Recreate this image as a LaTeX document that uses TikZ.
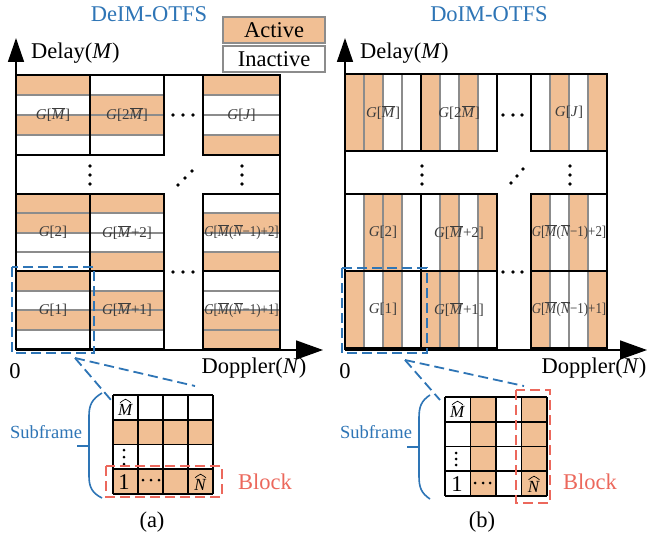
\documentclass[tikz,border=0pt]{standalone}
\usepackage{fontspec}
\setmainfont{Liberation Serif}
\usetikzlibrary{arrows.meta}
\definecolor{act}{RGB}{241,191,148}
\definecolor{bl}{RGB}{46,117,182}
\definecolor{rd}{RGB}{236,104,92}
\definecolor{gl}{RGB}{140,140,140}
\definecolor{lab}{RGB}{60,60,60}
\newcommand{\mybar}[1]{$\overline{\mbox{\textit{#1}}}$}
\tikzset{
  big/.style={font=\fontsize{22.5}{27}\selectfont, inner sep=0pt},
  clab/.style={font=\fontsize{15}{18}\selectfont, text=lab, inner sep=0pt},
  hatlab/.style={font=\fontsize{17}{20}\selectfont, inner sep=0pt},
  hatline/.style={draw=black, line width=0.7pt},
  gline/.style={draw=gl, line width=2pt},
  cellb/.style={draw=black, line width=1.6pt},
  axisline/.style={draw=black, line width=1.6pt, -{Triangle[length=27pt,width=19pt]}},
  vaxisline/.style={draw=black, line width=1.6pt, -{Triangle[length=24pt,width=16pt]}},
  bdash/.style={draw=bl, line width=1.8pt, dash pattern=on 10pt off 5pt},
  rdash/.style={draw=rd, line width=1.8pt, dash pattern=on 10pt off 5pt},
  dotty/.style={fill=black, inner sep=0pt, minimum size=3.6pt, circle},
  legbox/.style={draw=gl, line width=2pt, minimum width=102pt, minimum height=26pt, big},
}
% horizontal-strip cell: x0, ytop, x1, ybot, fills(top..bottom), label, name
\newcommand{\HCell}[7]{%
  \foreach \f [count=\i from 0] in {#5}{%
    \pgfmathsetmacro\ya{#2+(#4-#2)*\i/4}%
    \pgfmathsetmacro\yb{#2+(#4-#2)*(\i+1)/4}%
    \fill[\f] (#1,\ya) rectangle (#3,\yb);}%
  \foreach \i in {1,2,3}{%
    \pgfmathsetmacro\ya{#2+(#4-#2)*\i/4}%
    \draw[gline] (#1,\ya) -- (#3,\ya);}%
  \draw[cellb] (#1,#2) rectangle (#3,#4);%
  \node[clab] (#7) at ({(#1+#3)/2},{(#2+#4)/2}) {#6};%
}
% vertical-strip cell: x0, ytop, x1, ybot, fills(left..right), label, name
\newcommand{\VCell}[7]{%
  \foreach \f [count=\i from 0] in {#5}{%
    \pgfmathsetmacro\xa{#1+(#3-#1)*\i/4}%
    \pgfmathsetmacro\xb{#1+(#3-#1)*(\i+1)/4}%
    \fill[\f] (\xa,#2) rectangle (\xb,#4);}%
  \foreach \i in {1,2,3}{%
    \pgfmathsetmacro\xa{#1+(#3-#1)*\i/4}%
    \draw[gline] (\xa,#2) -- (\xa,#4);}%
  \draw[cellb] (#1,#2) rectangle (#3,#4);%
  \node[clab] (#7) at ({(#1+#3)/2},{(#2+#4)/2}) {#6};%
}
% letter with a drawn wide hat: name, position, letter
\newcommand{\HatLetter}[3]{%
  \node[hatlab] (#1) at (#2) {\textit{#3}};%
  \draw[hatline] ([xshift=-5.5pt,yshift=1.5pt]#1.north) .. controls ([xshift=-2pt,yshift=4pt]#1.north) .. ([yshift=5pt]#1.north)
     .. controls ([xshift=2pt,yshift=4pt]#1.north) .. ([xshift=5.5pt,yshift=1.5pt]#1.north);%
}
\newcommand{\LongA}{\scalebox{0.86}[1]{\textit{G}[\mybar{M}(\mybar{N}−1)+2]}}
\newcommand{\LongB}{\scalebox{0.86}[1]{\textit{G}[\mybar{M}(\mybar{N}−1)+1]}}
\begin{document}
\begin{tikzpicture}[x=1pt,y=-1pt]
\useasboundingbox (0,0) rectangle (647,540);
\fill[white] (0,0) rectangle (647,540);

% titles and legend
\node[big, text=bl] (tA) at (149,14) {DeIM-OTFS};
\node[big, text=bl] (tB) at (489,14) {DoIM-OTFS};
\node[legbox, fill=act] (legA) at (274,30) {Active};
\node[legbox, fill=white] (legI) at (274,59) {Inactive};

% ================= left panel (DeIM) =================
\HCell{16}{75}{90}{155}{act,white,act,white}{\textit{G}[\mybar{M}]}{a11}
\HCell{90}{75}{164}{155}{white,act,act,white}{\textit{G}[2\mybar{M}]}{a12}
\HCell{203}{75}{280}{155}{act,white,white,act}{\textit{G}[\textit{J}]}{a14}
\HCell{16}{194}{90}{271}{act,act,white,white}{\textit{G}[2]}{a21}
\HCell{90}{194}{164}{271}{act,white,white,act}{\textit{G}[\mybar{M}+2]}{a22}
\HCell{203}{194}{280}{271}{white,act,white,act}{\LongA}{a24}
\HCell{16}{271}{90}{349}{act,white,act,white}{\textit{G}[1]}{a31}
\HCell{90}{271}{164}{349}{white,act,act,white}{\textit{G}[\mybar{M}+1]}{a32}
\HCell{203}{271}{280}{349}{white,white,act,act}{\LongB}{a34}
\coordinate (aTL) at (16,75);
\coordinate (aTR) at (280,75);
\coordinate (aBR) at (280,349);
\draw[cellb] (aTL) -- (aTR) -- (aBR);
\coordinate (aO) at (16,350);
\coordinate (aY) at (16,38);
\coordinate (aX) at (323,350);
\draw[vaxisline] (aO) -- (aY);
\draw[axisline] (aO) -- (aX);
\node[big, anchor=west] (aDel) at (31,53) {Delay(\textit{M})};
\node[big] (aDop) at (254,368) {Doppler(\textit{N})};
\node[big] (a0) at (15,371) {0};
% dots
\foreach \y in {166,175,184}{\node[dotty] at (90,\y) {}; \node[dotty] at (242,\y) {};}
\foreach \x in {173,183,193}{\node[dotty] at (\x,115) {}; \node[dotty] at (\x,272) {};}
\node[dotty] at (178,185) {}; \node[dotty] at (185,178) {}; \node[dotty] at (192,171) {};

% zoom indication
\draw[bdash] (12,267) rectangle (94,353);
\coordinate (aZ) at (75,358);
\coordinate (aZ1) at (111,400);
\coordinate (aZ2) at (195,386);
\draw[bdash] (aZ) -- (aZ1);
\draw[bdash] (aZ) -- (aZ2);

% inset (a)
\foreach \r/\f in {0/white,1/act,2/white,3/act}{
  \fill[\f] (113,{395+24.75*\r}) rectangle (213,{395+24.75*(\r+1)});}
\foreach \i in {0,...,4}{
  \draw[cellb] ({113+25*\i},395) -- ({113+25*\i},494);
  \draw[cellb] (113,{395+24.75*\i}) -- (213,{395+24.75*\i});}
\HatLetter{aMh}{125.5,410}{M}
\HatLetter{aNh}{200.5,485}{N}
\node[big] (a1) at (124,482) {1};
\foreach \y in {450,457,464}{\node[dotty, minimum size=3pt] at (124,\y) {};}
\foreach \x in {143,151,159}{\node[dotty, minimum size=3pt] at (\x,480) {};}
\draw[rdash] (106,466) rectangle (222,497);
\node[big, text=rd] (aBlk) at (265,482) {Block};
\node[font=\fontsize{18.5}{22}\selectfont, text=bl, inner sep=0pt] (aSub) at (46,432) {Subframe};
\draw[draw=bl, line width=1.6pt] (102,393) .. controls (92,399) and (89,405) .. (89,416) -- (89,476) .. controls (89,487) and (92,493) .. (102,498);
\draw[draw=bl, line width=1.6pt] (77,446) -- (89,446);
\node[big] (aCap) at (152,522) {(a)};

% ================= right panel (DoIM) =================
\VCell{345}{74}{421}{151}{act,act,white,white}{\textit{G}[\mybar{M}]}{b11}
\VCell{421}{74}{497}{151}{act,white,act,white}{\textit{G}[2\mybar{M}]}{b12}
\VCell{531}{74}{607}{151}{white,act,white,act}{\textit{G}[\textit{J}]}{b14}
\VCell{345}{194}{421}{271}{white,act,act,white}{\textit{G}[2]}{b21}
\VCell{421}{194}{497}{271}{white,act,white,act}{\textit{G}[\mybar{M}+2]}{b22}
\VCell{531}{194}{607}{271}{act,white,act,white}{\LongA}{b24}
\VCell{345}{271}{421}{348}{act,white,act,white}{\textit{G}[1]}{b31}
\VCell{421}{271}{497}{348}{act,act,white,white}{\textit{G}[\mybar{M}+1]}{b32}
\VCell{531}{271}{607}{348}{act,white,white,act}{\LongB}{b34}
\coordinate (bTL) at (345,74);
\coordinate (bTR) at (607,74);
\coordinate (bBR) at (607,348);
\draw[cellb] (bTL) -- (bTR) -- (bBR);
\coordinate (bO) at (345,350);
\coordinate (bY) at (345,38);
\coordinate (bX) at (647,350);
\draw[vaxisline] (bO) -- (bY);
\draw[axisline] (bO) -- (bX);
\node[big, anchor=west] (bDel) at (360,53) {Delay(\textit{M})};
\node[big] (bDop) at (594,368) {Doppler(\textit{N})};
\node[big] (b0) at (345,371) {0};
\foreach \y in {166,175,184}{\node[dotty] at (422,\y) {}; \node[dotty] at (570,\y) {};}
\foreach \x in {503,513,522}{\node[dotty] at (\x,115) {}; \node[dotty] at (\x,272) {};}
\node[dotty] at (511,183) {}; \node[dotty] at (517,176) {}; \node[dotty] at (523,169) {};

\draw[bdash] (342,268) rectangle (427,353);
\coordinate (bZ) at (405,360);
\coordinate (bZ1) at (440,400);
\coordinate (bZ2) at (524,386);
\draw[bdash] (bZ) -- (bZ1);
\draw[bdash] (bZ) -- (bZ2);

% inset (b)
\foreach \c/\f in {0/white,1/act,2/white,3/act}{
  \fill[\f] ({445+25.5*\c},397) rectangle ({445+25.5*(\c+1)},496);}
\foreach \i in {0,...,4}{
  \draw[cellb] ({445+25.5*\i},397) -- ({445+25.5*\i},496);
  \draw[cellb] (445,{397+24.75*\i}) -- (547,{397+24.75*\i});}
\HatLetter{bMh}{457.5,412}{M}
\HatLetter{bNh}{534,487}{N}
\node[big] (b1) at (457,484) {1};
\foreach \y in {453,459,465}{\node[dotty, minimum size=3pt] at (456,\y) {};}
\foreach \x in {475,483,490}{\node[dotty, minimum size=3pt] at (\x,483) {};}
\draw[rdash] (516,390) rectangle (550,503);
\node[big, text=rd] (bBlk) at (590,482) {Block};
\node[font=\fontsize{18.5}{22}\selectfont, text=bl, inner sep=0pt] (bSub) at (376,432) {Subframe};
\draw[draw=bl, line width=1.6pt] (430,395) .. controls (421,401) and (419,407) .. (419,418) -- (419,476) .. controls (419,487) and (421,493) .. (430,499);
\draw[draw=bl, line width=1.6pt] (407,447) -- (419,447);
\node[big] (bCap) at (482,522) {(b)};
\end{tikzpicture}
\end{document}
